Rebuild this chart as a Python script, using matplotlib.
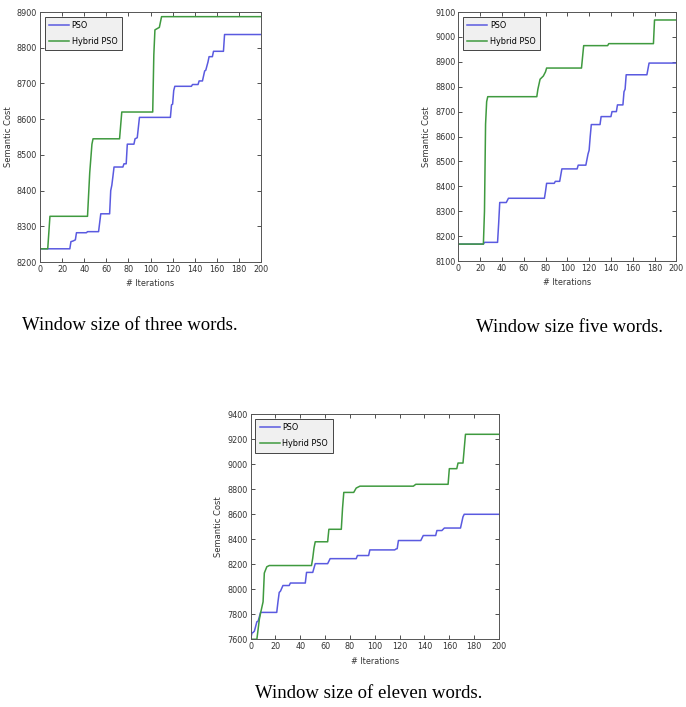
import matplotlib
matplotlib.use('Agg')
import matplotlib.pyplot as plt

# window size 3
it3_pso = [0, 27, 28, 30, 32, 33, 42, 43, 53, 55, 63, 64, 65, 66, 67, 75, 76, 78, 79, 85, 86, 88, 90, 118, 119, 120, 121, 122, 137, 138, 143, 144, 147, 149, 150, 152, 153, 156, 157, 166, 167, 200]
v3_pso = [8237, 8237, 8257, 8259, 8262, 8282, 8282, 8285, 8285, 8335, 8335, 8400, 8415, 8440, 8466, 8466, 8475, 8475, 8530, 8530, 8545, 8548, 8605, 8605, 8640, 8642, 8680, 8692, 8692, 8697, 8697, 8707, 8707, 8735, 8737, 8760, 8775, 8775, 8790, 8790, 8837, 8837]
it3_hyb = [0, 7, 9, 43, 45, 47, 48, 72, 74, 102, 103, 104, 108, 110, 200]
v3_hyb = [8237, 8237, 8328, 8328, 8450, 8530, 8545, 8545, 8620, 8620, 8780, 8850, 8857, 8887, 8887]

# window size 5
it5_pso = [0, 23, 24, 36, 37, 38, 44, 46, 79, 80, 81, 88, 89, 93, 95, 109, 110, 117, 119, 120, 121, 122, 130, 131, 140, 141, 145, 146, 151, 152, 153, 154, 173, 175, 200]
v5_pso = [8168, 8168, 8175, 8175, 8250, 8335, 8335, 8352, 8352, 8380, 8412, 8412, 8420, 8420, 8470, 8470, 8485, 8485, 8530, 8545, 8600, 8648, 8648, 8680, 8680, 8700, 8700, 8727, 8727, 8780, 8790, 8848, 8848, 8895, 8895]
it5_hyb = [0, 23, 24, 25, 26, 27, 72, 73, 75, 78, 80, 81, 113, 115, 137, 138, 179, 180, 200]
v5_hyb = [8168, 8168, 8300, 8650, 8740, 8760, 8760, 8790, 8830, 8843, 8860, 8875, 8875, 8965, 8965, 8973, 8973, 9068, 9068]

# window size 11
it11_pso = [0, 1, 2, 3, 5, 6, 8, 21, 22, 23, 24, 26, 31, 32, 44, 45, 50, 52, 62, 64, 85, 86, 95, 96, 116, 117, 118, 119, 137, 139, 149, 150, 154, 156, 169, 171, 172, 200]
v11_pso = [7600, 7650, 7655, 7665, 7740, 7745, 7815, 7815, 7900, 7975, 7985, 8030, 8030, 8050, 8050, 8135, 8135, 8205, 8205, 8245, 8245, 8270, 8270, 8315, 8315, 8322, 8325, 8390, 8390, 8430, 8430, 8470, 8470, 8490, 8490, 8580, 8600, 8600]
it11_hyb = [0, 5, 7, 8, 10, 11, 13, 15, 49, 50, 51, 52, 62, 63, 73, 74, 75, 83, 85, 88, 131, 133, 159, 160, 166, 167, 171, 173, 200]
v11_hyb = [7600, 7600, 7760, 7810, 7900, 8130, 8180, 8190, 8190, 8250, 8330, 8380, 8380, 8480, 8480, 8650, 8775, 8775, 8810, 8825, 8825, 8840, 8840, 8965, 8965, 9010, 9010, 9240, 9240]

ylims = [(8200, 8900), (8100, 9100), (7600, 9400)]
yticks = [range(8200, 8901, 100), range(8100, 9101, 100), range(7600, 9401, 200)]
captions = ['Window size of three words.', 'Window size five words.', 'Window size of eleven words.']

blue = '#5a5ae0'
green = '#3f9a3f'
tfont = {'family': 'DejaVu Sans', 'stretch': 'condensed', 'size': 6.5}

fig = plt.figure(figsize=(6.86, 7.07), dpi=100)
positions = [[0.0583, 0.6294, 0.3222, 0.3536],
             [0.6681, 0.6308, 0.3178, 0.3522],
             [0.3654, 0.0958, 0.3620, 0.3182]]
data = [(it3_pso, v3_pso, it3_hyb, v3_hyb),
        (it5_pso, v5_pso, it5_hyb, v5_hyb),
        (it11_pso, v11_pso, it11_hyb, v11_hyb)]

for i, pos in enumerate(positions):
    ax = fig.add_axes(pos)
    xp, yp, xh, yh = data[i]
    ax.plot(xp, yp, color=blue, lw=1.1, label='PSO')
    ax.plot(xh, yh, color=green, lw=1.1, label='Hybrid PSO')
    ax.set_xlim(0, 200)
    ax.set_ylim(ylims[i])
    ax.set_xticks(range(0, 201, 20))
    ax.set_yticks(list(yticks[i]))
    ax.tick_params(direction='in', top=True, right=True, length=3, width=0.6,
                   colors='#333333', pad=2)
    for lab in ax.get_xticklabels() + ax.get_yticklabels():
        lab.set_fontproperties(tfont)
    for sp in ax.spines.values():
        sp.set_color('#555555')
        sp.set_linewidth(0.7)
    ax.set_xlabel('# Iterations', fontdict=tfont, color='#333333', labelpad=4)
    ax.set_ylabel('Semantic Cost', fontsize=6, color='#333333', labelpad=3)
    leg = ax.legend(loc='upper left', prop={'family': 'DejaVu Sans', 'stretch': 'condensed', 'size': 6.5},
                    fancybox=False, framealpha=1, handlelength=2.2, borderpad=0.5,
                    labelspacing=0.75, borderaxespad=0.5, handletextpad=0.3)
    leg.get_frame().set_facecolor('#f0f0f0')
    leg.get_frame().set_edgecolor('#444444')
    leg.get_frame().set_linewidth(0.7)

fig.text(130 / 686, 1 - 325 / 707, captions[0], ha='center', va='center',
         family='Liberation Serif', fontsize=13.5)
fig.text(570 / 686, 1 - 328 / 707, captions[1], ha='center', va='center',
         family='Liberation Serif', fontsize=13.5)
fig.text(369 / 686, 1 - 693 / 707, captions[2], ha='center', va='center',
         family='Liberation Serif', fontsize=13.5)

plt.savefig('out.png', dpi=100)
plt.close('all')
